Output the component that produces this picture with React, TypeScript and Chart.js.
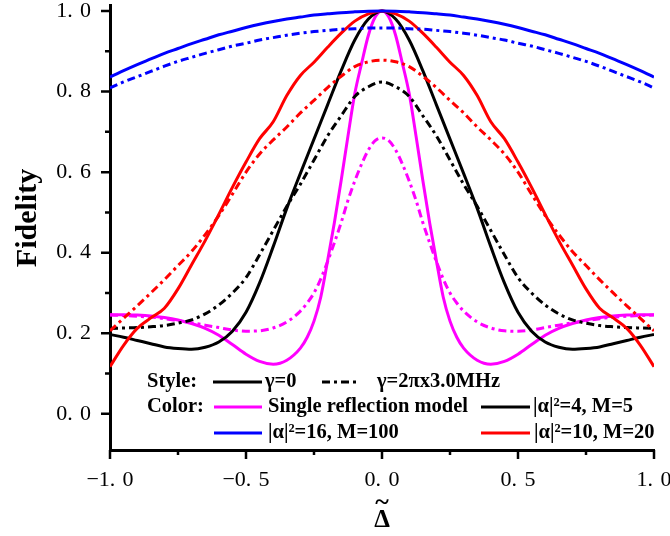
import React, { useEffect, useRef } from 'react';
import { Chart, registerables } from 'chart.js';

Chart.register(...registerables);

// Detuning axis values (normalized Δ̃)
const DELTA = [-1, -0.95, -0.9, -0.85, -0.8, -0.75, -0.7, -0.65, -0.6, -0.55, -0.5, -0.45, -0.4, -0.35, -0.3, -0.25, -0.2, -0.15, -0.1, -0.05, 0, 0.05, 0.1, 0.15, 0.2, 0.25, 0.3, 0.35, 0.4, 0.45, 0.5, 0.55, 0.6, 0.65, 0.7, 0.75, 0.8, 0.85, 0.9, 0.95, 1];
const DELTA_FINE = [-1, -0.95, -0.9, -0.85, -0.8, -0.75, -0.7, -0.65, -0.6, -0.55, -0.5, -0.45, -0.4, -0.35, -0.3, -0.275, -0.25, -0.225, -0.2, -0.175, -0.15, -0.125, -0.1, -0.075, -0.05, -0.025, 0, 0.025, 0.05, 0.075, 0.1, 0.125, 0.15, 0.175, 0.2, 0.225, 0.25, 0.275, 0.3, 0.35, 0.4, 0.45, 0.5, 0.55, 0.6, 0.65, 0.7, 0.75, 0.8, 0.85, 0.9, 0.95, 1];

// Single reflection model (magenta), on DELTA_FINE
const SINGLE_G0 = [0.246, 0.246, 0.245, 0.243, 0.239, 0.233, 0.224, 0.212, 0.195, 0.172, 0.148, 0.13, 0.123, 0.133, 0.163, 0.19, 0.23, 0.29, 0.38, 0.475, 0.58, 0.69, 0.795, 0.87, 0.94, 0.985, 1.0, 0.985, 0.94, 0.87, 0.795, 0.69, 0.58, 0.475, 0.38, 0.29, 0.23, 0.19, 0.163, 0.133, 0.123, 0.13, 0.148, 0.172, 0.195, 0.212, 0.224, 0.233, 0.239, 0.243, 0.245, 0.246, 0.246];
const SINGLE_G3 = [0.245, 0.244, 0.242, 0.24, 0.236, 0.231, 0.226, 0.22, 0.214, 0.208, 0.205, 0.206, 0.213, 0.228, 0.255, 0.275, 0.3, 0.335, 0.378, 0.425, 0.475, 0.53, 0.578, 0.62, 0.655, 0.678, 0.685, 0.678, 0.655, 0.62, 0.578, 0.53, 0.475, 0.425, 0.378, 0.335, 0.3, 0.275, 0.255, 0.228, 0.213, 0.206, 0.205, 0.208, 0.214, 0.22, 0.226, 0.231, 0.236, 0.24, 0.242, 0.244, 0.245];

// |α|²=4, M=5 (black), on DELTA
const A4M5_G0 = [0.197, 0.19, 0.182, 0.174, 0.166, 0.162, 0.16, 0.165, 0.178, 0.205, 0.252, 0.325, 0.415, 0.51, 0.597, 0.682, 0.767, 0.852, 0.928, 0.98, 1.0, 0.98, 0.928, 0.852, 0.767, 0.682, 0.597, 0.51, 0.415, 0.325, 0.252, 0.205, 0.178, 0.165, 0.16, 0.162, 0.166, 0.174, 0.182, 0.19, 0.197];
const A4M5_G3 = [0.212, 0.213, 0.214, 0.216, 0.219, 0.225, 0.233, 0.248, 0.27, 0.3, 0.338, 0.395, 0.455, 0.515, 0.57, 0.63, 0.69, 0.74, 0.788, 0.812, 0.824, 0.812, 0.788, 0.74, 0.69, 0.63, 0.57, 0.515, 0.455, 0.395, 0.338, 0.3, 0.27, 0.248, 0.233, 0.225, 0.219, 0.216, 0.214, 0.213, 0.212];

// |α|²=16, M=100 (blue), on DELTA
const A16M100_G0 = [0.836, 0.852, 0.867, 0.881, 0.895, 0.907, 0.919, 0.93, 0.941, 0.95, 0.959, 0.967, 0.974, 0.98, 0.985, 0.99, 0.993, 0.996, 0.998, 0.9996, 1.0, 0.9996, 0.998, 0.996, 0.993, 0.99, 0.985, 0.98, 0.974, 0.967, 0.959, 0.95, 0.941, 0.93, 0.919, 0.907, 0.895, 0.881, 0.867, 0.852, 0.836];
const A16M100_G3 = [0.809, 0.824, 0.837, 0.85, 0.863, 0.875, 0.885, 0.895, 0.904, 0.913, 0.92, 0.928, 0.934, 0.94, 0.945, 0.949, 0.952, 0.955, 0.956, 0.958, 0.958, 0.958, 0.956, 0.955, 0.952, 0.949, 0.945, 0.94, 0.934, 0.928, 0.92, 0.913, 0.904, 0.895, 0.885, 0.875, 0.863, 0.85, 0.837, 0.824, 0.809];

// |α|²=10, M=20 (red), on DELTA
const A10M20_G0 = [0.117, 0.17, 0.212, 0.238, 0.262, 0.31, 0.37, 0.43, 0.495, 0.562, 0.625, 0.683, 0.725, 0.79, 0.84, 0.873, 0.91, 0.945, 0.975, 0.993, 1.0, 0.993, 0.975, 0.945, 0.91, 0.873, 0.84, 0.79, 0.725, 0.683, 0.625, 0.562, 0.495, 0.43, 0.37, 0.31, 0.262, 0.238, 0.212, 0.17, 0.117];
const A10M20_G3 = [0.206, 0.237, 0.268, 0.3, 0.333, 0.368, 0.403, 0.445, 0.492, 0.545, 0.6, 0.645, 0.68, 0.712, 0.747, 0.778, 0.81, 0.838, 0.862, 0.874, 0.878, 0.874, 0.862, 0.838, 0.81, 0.778, 0.747, 0.712, 0.68, 0.645, 0.6, 0.545, 0.492, 0.445, 0.403, 0.368, 0.333, 0.3, 0.268, 0.237, 0.206];

const X_TICKS = [-1, -0.5, 0, 0.5, 1];
const X_MINOR = [-0.75, -0.25, 0.25, 0.75];
const Y_TICKS = [0, 0.2, 0.4, 0.6, 0.8, 1.0];
const Y_MINOR = [0.1, 0.3, 0.5, 0.7, 0.9];

const X_TITLE = 'Δ';
const X_TITLE_ACCENT = '~';
const Y_TITLE = 'Fidelity';

const SERIF = '"Liberation Serif", "Times New Roman", serif';
const DASHDOT = [8, 4, 3, 4];

const pts = (xs: number[], ys: number[]) => xs.map((x, i) => ({ x, y: ys[i] }));

const fmt = (v: number) => {
  const s = Math.abs(v).toFixed(1).replace('.', '.\u2004');
  return (v < 0 ? '\u2212' : '') + s;
};

const line = (label: string, xs: number[], ys: number[], color: string, dashed: boolean) => ({
  label,
  data: pts(xs, ys),
  borderColor: color,
  backgroundColor: color,
  borderWidth: 3,
  borderDash: dashed ? DASHDOT : [],
  pointRadius: 0,
  cubicInterpolationMode: 'monotone' as const,
  fill: false,
});

const decor = {
  id: 'decor',
  afterDraw(chart: any) {
    const { ctx, chartArea: a, scales } = chart;
    const sx = scales.x;
    const sy = scales.y;
    ctx.save();
    ctx.strokeStyle = '#000';
    ctx.lineWidth = 2.5;
    ctx.beginPath();
    for (const v of X_TICKS) { const p = sx.getPixelForValue(v); ctx.moveTo(p, a.bottom); ctx.lineTo(p, a.bottom + 9); }
    for (const v of X_MINOR) { const p = sx.getPixelForValue(v); ctx.moveTo(p, a.bottom); ctx.lineTo(p, a.bottom + 5); }
    for (const v of Y_TICKS) { const p = sy.getPixelForValue(v); ctx.moveTo(a.left, p); ctx.lineTo(a.left - 9, p); }
    for (const v of Y_MINOR) { const p = sy.getPixelForValue(v); ctx.moveTo(a.left, p); ctx.lineTo(a.left - 5, p); }
    ctx.stroke();

    ctx.fillStyle = '#000';
    ctx.textAlign = 'center';
    ctx.textBaseline = 'middle';
    ctx.font = `bold 30px ${SERIF}`;
    ctx.save();
    ctx.translate(28, 218);
    ctx.rotate(-Math.PI / 2);
    ctx.fillText(Y_TITLE, 0, 0);
    ctx.restore();
    const cx = (a.left + a.right) / 2;
    ctx.font = `bold 25px ${SERIF}`;
    ctx.fillText(X_TITLE, cx, 521);
    ctx.font = `bold 26px ${SERIF}`;
    ctx.fillText(X_TITLE_ACCENT, cx, 503);

    // legend
    const L = a.left;
    const B = a.bottom;
    const r1 = B - 68, r2 = B - 43, r3 = B - 17;
    const sample = (x1: number, x2: number, y: number, color: string, dash: number[]) => {
      ctx.beginPath();
      ctx.setLineDash(dash);
      ctx.strokeStyle = color;
      ctx.lineWidth = 3;
      ctx.moveTo(x1, y);
      ctx.lineTo(x2, y);
      ctx.stroke();
      ctx.setLineDash([]);
    };
    ctx.font = `bold 20.5px ${SERIF}`;
    ctx.textAlign = 'left';
    ctx.fillStyle = '#000';
    ctx.fillText('Style:', L + 37, r1);
    sample(L + 103, L + 152, r1, '#000', []);
    ctx.fillText('γ=0', L + 155, r1);
    sample(L + 212, L + 250, r1, '#000', DASHDOT);
    ctx.fillText('γ=2πx3.0MHz', L + 267, r1);

    ctx.fillText('Color:', L + 37, r2);
    sample(L + 104, L + 152, r2, '#FF00FF', []);
    ctx.fillText('Single reflection model', L + 158, r2);
    sample(L + 371, L + 420, r2, '#000', []);
    ctx.fillText('|α|²=4, M=5', L + 423, r2);

    sample(L + 104, L + 152, r3, '#0000FF', []);
    ctx.fillText('|α|²=16, M=100', L + 158, r3);
    sample(L + 371, L + 420, r3, '#FF0000', []);
    ctx.fillText('|α|²=10, M=20', L + 424, r3);
    ctx.restore();
  },
};

export default function App() {
  const ref = useRef<HTMLCanvasElement>(null);
  useEffect(() => {
    const canvas = ref.current;
    if (!canvas) return;
    const chart = new Chart(canvas, {
      type: 'line',
      data: {
        datasets: [
          line('|α|²=16, M=100, γ=0', DELTA, A16M100_G0, '#0000FF', false),
          line('|α|²=16, M=100, γ=2πx3.0MHz', DELTA, A16M100_G3, '#0000FF', true),
          line('|α|²=10, M=20, γ=0', DELTA, A10M20_G0, '#FF0000', false),
          line('|α|²=10, M=20, γ=2πx3.0MHz', DELTA, A10M20_G3, '#FF0000', true),
          line('|α|²=4, M=5, γ=0', DELTA, A4M5_G0, '#000000', false),
          line('|α|²=4, M=5, γ=2πx3.0MHz', DELTA, A4M5_G3, '#000000', true),
          line('Single reflection model, γ=0', DELTA_FINE, SINGLE_G0, '#FF00FF', false),
          line('Single reflection model, γ=2πx3.0MHz', DELTA_FINE, SINGLE_G3, '#FF00FF', true),
        ],
      },
      options: {
        responsive: false,
        animation: false,
        devicePixelRatio: 1,
        layout: { padding: { left: 0, right: 16, top: 5, bottom: 0 } },
        plugins: { legend: { display: false }, tooltip: { enabled: false } },
        scales: {
          x: {
            type: 'linear',
            min: -1,
            max: 1,
            afterBuildTicks: (s: any) => { s.ticks = X_TICKS.map((v) => ({ value: v })); },
            afterFit: (s: any) => { s.height = 86; s.paddingLeft = 0; s.paddingRight = 0; },
            grid: { display: false },
            border: { display: true, width: 3, color: '#000' },
            ticks: {
              autoSkip: false,
              maxRotation: 0,
              padding: 9,
              color: '#000',
              font: { family: SERIF, size: 22 },
              callback: (v: any) => fmt(Number(v)),
            },
          },
          y: {
            type: 'linear',
            min: -0.09,
            max: 1.015,
            afterBuildTicks: (s: any) => { s.ticks = Y_TICKS.map((v) => ({ value: v })); },
            afterFit: (s: any) => { s.width = 110; s.paddingTop = 0; s.paddingBottom = 0; },
            grid: { display: false },
            border: { display: true, width: 3, color: '#000' },
            ticks: {
              autoSkip: false,
              padding: 11,
              color: '#000',
              font: { family: SERIF, size: 22 },
              callback: (v: any) => fmt(Number(v)),
            },
          },
        },
      },
      plugins: [decor],
    } as any);
    return () => chart.destroy();
  }, []);
  return (
    <div style={{ position: 'absolute', left: 0, top: 0, width: 670, height: 536, background: '#fff' }}>
      <canvas ref={ref} width={670} height={536} style={{ display: 'block', width: 670, height: 536 }} />
    </div>
  );
}
